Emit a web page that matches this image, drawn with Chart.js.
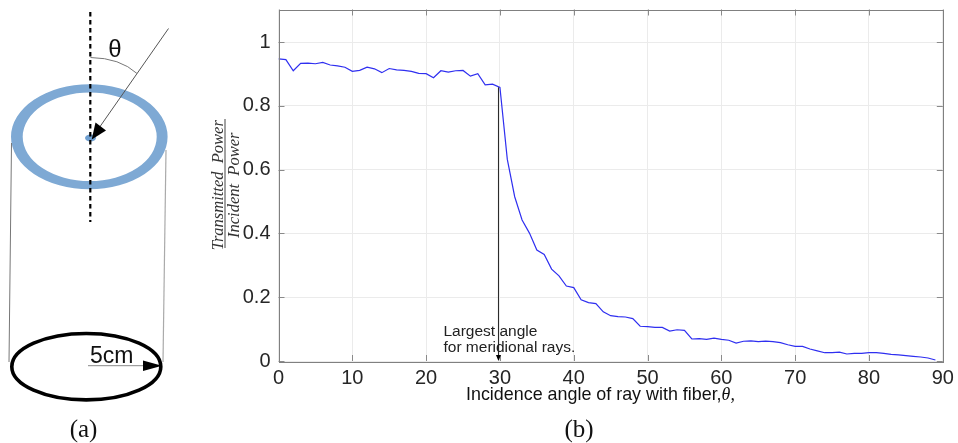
<!DOCTYPE html>
<html><head><meta charset="utf-8">
<style>html,body{margin:0;padding:0;background:#fff;width:958px;height:443px;overflow:hidden}
#wrap{position:relative;width:958px;height:443px}
#c{position:absolute;left:0;top:0}
svg{position:absolute;left:0;top:0}</style>
<script src="https://cdn.jsdelivr.net/npm/chart.js@4"></script>
</head><body><div id="wrap"><canvas id="c" width="958" height="443"></canvas>
<svg width="200" height="443" viewBox="0 0 200 443">
<path fill-rule="evenodd" fill="#7ea9d4" d="M11,136.8a78.3,52.5 0 1,0 156.6,0a78.3,52.5 0 1,0 -156.6,0z M22.7,136.8a67,44.2 0 1,0 134,0a67,44.2 0 1,0 -134,0z"/>
<ellipse cx="90.5" cy="138" rx="5.5" ry="3.5" fill="#6f9fd0"/>
<line x1="90.3" y1="12" x2="90.3" y2="222" stroke="#000" stroke-width="2.2" stroke-dasharray="4.5 3.5"/>
<line x1="168.5" y1="28.5" x2="99" y2="128" stroke="#555" stroke-width="1"/>
<polygon points="91.7,139.5 95.5,122.5 106,130.5" fill="#000"/>
<path d="M90.5,57.5 Q120,58 137,73.5" fill="none" stroke="#777" stroke-width="1"/>
<text x="115" y="57" text-anchor="middle" font-family="Liberation Sans" font-size="24" fill="#111">θ</text>
<line x1="11.5" y1="143" x2="9" y2="362" stroke="#777" stroke-width="1"/>
<line x1="166" y1="150" x2="163" y2="362" stroke="#aaa" stroke-width="1.2"/>
<ellipse cx="86.3" cy="366.7" rx="74.5" ry="33.2" fill="none" stroke="#000" stroke-width="3.6"/>
<line x1="88" y1="365.7" x2="146" y2="365.7" stroke="#888" stroke-width="1"/>
<polygon points="162,365.7 143,360.5 143,371" fill="#000"/>
<text x="90" y="363" font-family="Liberation Sans" font-size="23" fill="#111">5cm</text>
<text x="83.5" y="437" text-anchor="middle" font-family="Liberation Serif" font-size="25" fill="#111">(a)</text>
</svg></div>
<script>
const angles = [0,1,2,3,4,5,6,7,8,9,10,11,12,13,14,15,16,17,18,19,20,21,22,23,24,25,26,27,28,29,30,31,32,33,34,35,36,37,38,39,40,41,42,43,44,45,46,47,48,49,50,51,52,53,54,55,56,57,58,59,60,61,62,63,64,65,66,67,68,69,70,71,72,73,74,75,76,77,78,79,80,81,82,83,84,85,86,87,88,89];
const transmitted = [.947,.945,.910,.933,.934,.932,.936,.928,.925,.921,.908,.911,.921,.916,.904,.917,.913,.911,.908,.902,.901,.888,.910,.906,.910,.911,.893,.901,.866,.868,.858,.632,.515,.442,.401,.348,.334,.288,.267,.235,.230,.192,.183,.180,.154,.142,.139,.138,.133,.109,.1075,.1055,.1055,.094,.098,.096,.069,.070,.068,.072,.068,.065,.056,.062,.063,.0606,.062,.0606,.0574,.051,.046,.046,.0376,.032,.026,.026,.028,.022,.024,.024,.026,.026,.024,.021,.019,.0167,.0146,.0125,.0094,.003];
const xTicks = [0,10,20,30,40,50,60,70,80,90];
const yTicks = [0,0.2,0.4,0.6,0.8,1];
const xTitle = 'Incidence angle of ray with fiber,';
const xTitleSymbol = 'θ,';
const yTitle = ['Transmitted  Power','Incident  Power'];
const note = ['Largest angle','for meridional rays.'];
const noteAngle = 29.8, noteTop = 0.858;

const decor = {
  id:'decor',
  afterDraw(chart){
    const {ctx,chartArea:a,scales:{x,y}} = chart;
    ctx.save();
    ctx.strokeStyle='#8a8a8a'; ctx.lineWidth=1; ctx.beginPath();
    xTicks.forEach(t=>{const p=Math.round(x.getPixelForValue(t))+.5;
      ctx.moveTo(p,a.bottom);ctx.lineTo(p,a.bottom-6);ctx.moveTo(p,a.top);ctx.lineTo(p,a.top+6);});
    yTicks.forEach(t=>{const p=Math.round(y.getPixelForValue(t))+.5;
      ctx.moveTo(a.left,p);ctx.lineTo(a.left+6,p);ctx.moveTo(a.right,p);ctx.lineTo(a.right-6,p);});
    ctx.stroke();
    ctx.strokeStyle='#808080'; ctx.strokeRect(Math.round(a.left)+.5,Math.round(a.top)+.5,Math.round(a.right-a.left),Math.round(a.bottom-a.top));
    const ax=x.getPixelForValue(noteAngle);
    ctx.strokeStyle='#222'; ctx.beginPath(); ctx.moveTo(ax,y.getPixelForValue(noteTop)); ctx.lineTo(ax,a.bottom-3); ctx.stroke();
    ctx.fillStyle='#000'; ctx.beginPath(); ctx.moveTo(ax,a.bottom); ctx.lineTo(ax-2.5,a.bottom-6); ctx.lineTo(ax+2.5,a.bottom-6); ctx.fill();
    ctx.fillStyle='#222'; ctx.font='15.5px "Liberation Sans"'; ctx.textAlign='left'; ctx.textBaseline='alphabetic';
    ctx.fillText(note[0],ax-55,336); ctx.fillText(note[1],ax-55,352);
    ctx.fillStyle='#111'; ctx.font='17.9px "Liberation Sans"';
    ctx.fillText(xTitle,466,400);
    const w=ctx.measureText(xTitle).width;
    ctx.font='italic 17.9px "Liberation Serif"';
    ctx.fillText(xTitleSymbol,466+w,400);
    ctx.strokeStyle='#444'; ctx.beginPath(); ctx.moveTo(225,119); ctx.lineTo(225,248); ctx.stroke();
    ctx.fillStyle='#111'; ctx.font='25px "Liberation Serif"'; ctx.textAlign='center';
    ctx.fillText('(b)',579,437);
    ctx.restore();
  }
};

new Chart(document.getElementById('c'),{
  type:'line',
  data:{datasets:[{data:angles.map((a,i)=>({x:a,y:transmitted[i]})),borderColor:'#2f2ff0',borderWidth:1.2,pointRadius:0,tension:0,fill:false}]},
  plugins:[decor],
  options:{
    responsive:false,animation:false,
    layout:{padding:{left:200,right:15.2,top:9.5,bottom:38}},
    plugins:{legend:{display:false},tooltip:{enabled:false},title:{display:false}},
    scales:{
      x:{type:'linear',min:0,max:90,
        afterFit(s){s.height=44;s.paddingLeft=0;s.paddingRight=0;},
        afterBuildTicks(s){s.ticks=xTicks.map(v=>({value:v}));},
        grid:{color:'#ebebeb',lineWidth:1,drawTicks:false},border:{display:false},
        ticks:{maxRotation:0,padding:5,color:'#262626',font:{family:'Liberation Sans',size:20}}},
      y:{min:0,max:1.102,
        afterFit(s){s.width=78.5;s.paddingTop=0;s.paddingBottom=0;},
        afterBuildTicks(s){s.ticks=yTicks.map(v=>({value:v}));},
        grid:{color:'#ebebeb',lineWidth:1,drawTicks:false},border:{display:false},
        ticks:{padding:8,color:'#262626',font:{family:'Liberation Sans',size:20},callback:v=>String(v)},
        title:{display:true,text:yTitle,color:'#333',font:{family:'Liberation Serif',size:16.5,style:'italic',lineHeight:1},padding:{top:10,bottom:0}}}
    }
  }
});
</script></body></html>
